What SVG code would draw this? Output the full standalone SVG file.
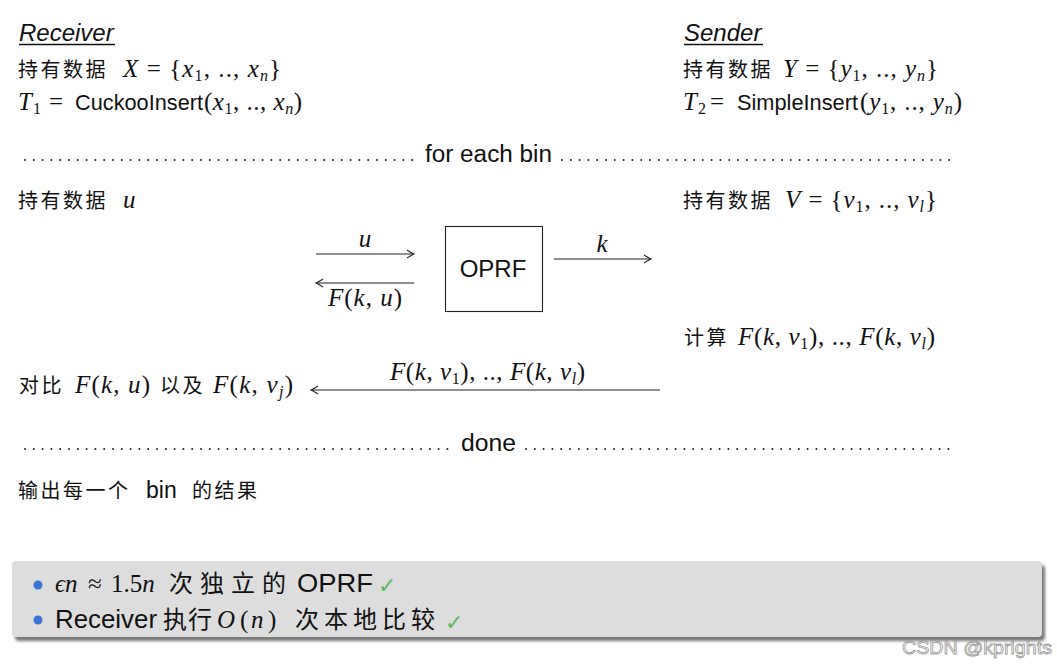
<svg xmlns="http://www.w3.org/2000/svg" width="1057" height="664" viewBox="0 0 1057 664">
<defs>
<style>
.s{font-family:"Liberation Sans",Arial,sans-serif;fill:#111}
.c{font-family:"Noto Sans CJK SC",sans-serif;fill:#111;font-size:20px;letter-spacing:2.5px}
.cb{font-family:"Noto Sans CJK SC",sans-serif;fill:#111;font-size:24px}
.m{font-family:"Liberation Serif","DejaVu Serif","Times New Roman",serif;fill:#111;font-size:25px}
.i{font-style:italic}
.b{font-size:16px}
.ln{stroke:#222;stroke-width:1.1;fill:none}
.dots{stroke:#222;stroke-width:2;stroke-linecap:round;stroke-dasharray:0 8.8;fill:none}
.ck{font-family:"DejaVu Sans",sans-serif;fill:#5cb85c;font-size:22px}
</style>
<marker id="ah" viewBox="-9 -6 11 12" markerWidth="11" markerHeight="12" refX="0" refY="0" orient="auto" markerUnits="userSpaceOnUse">
<path d="M-7,-4 Q-2,-0.8 0,0 Q-2,0.8 -7,4" fill="none" stroke="#222" stroke-width="1.1"/>
</marker>
<filter id="sh" x="-5%" y="-30%" width="110%" height="160%"><feGaussianBlur stdDeviation="1.8"/></filter>
</defs>
<rect width="1057" height="664" fill="#fff"/>

<g id="receiver-header">
<text class="s i" x="19" y="41" font-size="24">Receiver</text>
<line x1="19" y1="44.5" x2="115" y2="44.5" stroke="#111" stroke-width="1.3"/>
<text class="c" x="18" y="77">持有数据</text>
<text class="m" x="123" y="77" textLength="158" lengthAdjust="spacing"><tspan class="i">X</tspan> = {<tspan class="i">x</tspan><tspan class="b" dy="4">1</tspan><tspan dy="-4">, .., </tspan><tspan class="i">x</tspan><tspan class="b i" dy="4">n</tspan><tspan dy="-4">}</tspan></text>
<text class="m i" x="18" y="110">T</text><text class="m b" x="33" y="114">1</text><text class="m" x="49" y="110">=</text>
<text class="s" x="75" y="110" font-size="22" textLength="128" lengthAdjust="spacingAndGlyphs">CuckooInsert</text>
<text class="m" x="204" y="110" textLength="98" lengthAdjust="spacing">(<tspan class="i">x</tspan><tspan class="b" dy="4">1</tspan><tspan dy="-4">, .., </tspan><tspan class="i">x</tspan><tspan class="b i" dy="4">n</tspan><tspan dy="-4">)</tspan></text>
</g>

<g id="sender-header">
<text class="s i" x="684" y="41" font-size="24">Sender</text>
<line x1="684" y1="44.5" x2="763" y2="44.5" stroke="#111" stroke-width="1.3"/>
<text class="c" x="683" y="77">持有数据</text>
<text class="m" x="783" y="77" textLength="155" lengthAdjust="spacing"><tspan class="i">Y</tspan> = {<tspan class="i">y</tspan><tspan class="b" dy="4">1</tspan><tspan dy="-4">, .., </tspan><tspan class="i">y</tspan><tspan class="b i" dy="4">n</tspan><tspan dy="-4">}</tspan></text>
<text class="m i" x="683" y="110">T</text><text class="m b" x="698" y="114">2</text><text class="m" x="710" y="110">=</text>
<text class="s" x="737" y="110" font-size="22" textLength="121" lengthAdjust="spacingAndGlyphs">SimpleInsert</text>
<text class="m" x="860" y="110" textLength="102" lengthAdjust="spacing">(<tspan class="i">y</tspan><tspan class="b" dy="4">1</tspan><tspan dy="-4">, .., </tspan><tspan class="i">y</tspan><tspan class="b i" dy="4">n</tspan><tspan dy="-4">)</tspan></text>
</g>

<g id="for-each-bin">
<line class="dots" x1="25" y1="160" x2="420" y2="160"/>
<text class="s" x="425" y="162" font-size="23" textLength="127" lengthAdjust="spacingAndGlyphs">for each bin</text>
<line class="dots" x1="562" y1="160" x2="955" y2="160"/>
</g>

<g id="receiver-u">
<text class="c" x="18" y="208">持有数据</text>
<text class="m i" x="123" y="208">u</text>
</g>

<g id="sender-v">
<text class="c" x="683" y="208">持有数据</text>
<text class="m" x="785" y="208" textLength="152" lengthAdjust="spacing"><tspan class="i">V</tspan> = {<tspan class="i">v</tspan><tspan class="b" dy="4">1</tspan><tspan dy="-4">, .., </tspan><tspan class="i">v</tspan><tspan class="b i" dy="4">l</tspan><tspan dy="-4">}</tspan></text>
</g>

<g id="oprf">
<rect x="445.5" y="226.5" width="97" height="85" fill="#fff" stroke="#222" stroke-width="1.1"/>
<text class="s" x="493" y="277" font-size="24" text-anchor="middle">OPRF</text>
</g>

<g id="connectors">
<line class="ln" x1="316" y1="254" x2="414" y2="254" marker-end="url(#ah)"/>
<line class="ln" x1="414" y1="283" x2="316" y2="283" marker-end="url(#ah)"/>
<line class="ln" x1="554" y1="259" x2="651" y2="259" marker-end="url(#ah)"/>
<line class="ln" x1="660" y1="390" x2="311" y2="390" marker-end="url(#ah)"/>
<text class="m i" x="365" y="247" text-anchor="middle">u</text>
<text class="m" x="328" y="306" textLength="74" lengthAdjust="spacing"><tspan class="i">F</tspan>(<tspan class="i">k</tspan>, <tspan class="i">u</tspan>)</text>
<text class="m i" x="602" y="252" text-anchor="middle">k</text>
<text class="m" x="390" y="380" textLength="195" lengthAdjust="spacing"><tspan class="i">F</tspan>(<tspan class="i">k</tspan>, <tspan class="i">v</tspan><tspan class="b" dy="4">1</tspan><tspan dy="-4">), .., </tspan><tspan class="i">F</tspan>(<tspan class="i">k</tspan>, <tspan class="i">v</tspan><tspan class="b i" dy="4">l</tspan><tspan dy="-4">)</tspan></text>
</g>

<g id="sender-compute">
<text class="c" x="684" y="345">计算</text>
<text class="m" x="738" y="345" textLength="197" lengthAdjust="spacing"><tspan class="i">F</tspan>(<tspan class="i">k</tspan>, <tspan class="i">v</tspan><tspan class="b" dy="4">1</tspan><tspan dy="-4">), .., </tspan><tspan class="i">F</tspan>(<tspan class="i">k</tspan>, <tspan class="i">v</tspan><tspan class="b i" dy="4">l</tspan><tspan dy="-4">)</tspan></text>
</g>

<g id="receiver-compare">
<text class="c" x="19" y="393">对比</text>
<text class="m" x="75" y="393" textLength="75" lengthAdjust="spacing"><tspan class="i">F</tspan>(<tspan class="i">k</tspan>, <tspan class="i">u</tspan>)</text>
<text class="c" x="160" y="393">以及</text>
<text class="m" x="213" y="393" textLength="80" lengthAdjust="spacing"><tspan class="i">F</tspan>(<tspan class="i">k</tspan>, <tspan class="i">v</tspan><tspan class="b i" dy="4">j</tspan><tspan dy="-4">)</tspan></text>
</g>

<g id="done">
<line class="dots" x1="25" y1="449" x2="455" y2="449"/>
<text class="s" x="461" y="451" font-size="23" textLength="55" lengthAdjust="spacingAndGlyphs">done</text>
<line class="dots" x1="526" y1="449" x2="955" y2="449"/>
</g>

<g id="output">
<text class="c" x="18" y="498">输出每一个</text>
<text class="s" x="146" y="498" font-size="23">bin</text>
<text class="c" x="192" y="498">的结果</text>
</g>

<g id="summary">
<rect x="15" y="565" width="1030" height="76" rx="4" fill="#777" filter="url(#sh)"/>
<rect x="12" y="561" width="1030" height="76" rx="4" fill="#dddddd"/>
<circle cx="38" cy="585" r="4.5" fill="#3b73d9"/>
<circle cx="38" cy="620" r="4.5" fill="#3b73d9"/>
<text class="m i" x="55" y="592" font-size="28">ϵn</text>
<text class="m" x="88" y="592" font-size="28">≈</text>
<text class="m" x="111" y="592" font-size="28">1.5<tspan class="i">n</tspan></text>
<text class="cb" x="169" y="592" letter-spacing="7">次独立的</text>
<text class="s" x="297" y="592" font-size="26" textLength="76" lengthAdjust="spacingAndGlyphs">OPRF</text>
<text class="ck" x="378" y="593">✓</text>
<text class="s" x="55" y="628" font-size="26" textLength="102" lengthAdjust="spacingAndGlyphs">Receiver</text>
<text class="cb" x="163" y="628" font-size="22" letter-spacing="1">执行</text>
<text class="m i" x="217" y="628" font-size="28">O</text>
<text class="m" x="240" y="628" font-size="28">(</text>
<text class="m i" x="251" y="628" font-size="28">n</text>
<text class="m" x="268" y="628" font-size="28">)</text>
<text class="cb" x="295" y="628" letter-spacing="5">次本地比较</text>
<text class="ck" x="445" y="630">✓</text>
</g>

<text x="902" y="654" font-family="Liberation Sans,Arial,sans-serif" font-size="19" fill="#fff" stroke="#999" stroke-width="0.8" textLength="150" lengthAdjust="spacingAndGlyphs">CSDN @kprights</text>
</svg>
